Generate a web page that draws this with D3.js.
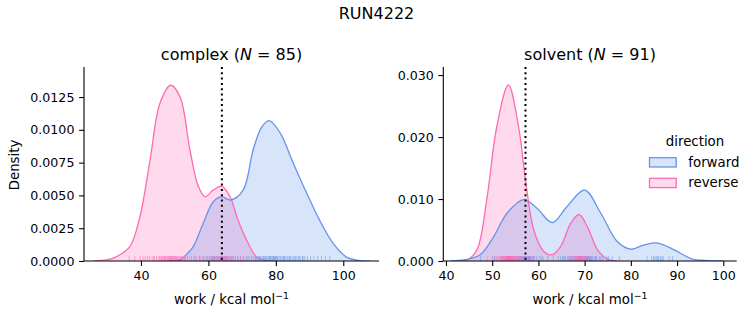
<!DOCTYPE html>
<html><head><meta charset="utf-8">
<script src="https://cdn.jsdelivr.net/npm/d3@7"></script>
<style>body{margin:0;background:#fff}svg{font-family:"DejaVu Sans",sans-serif}</style>
</head><body>
<script>
// ---------- data ----------
const suptitle = "RUN4222";
const panels = ["complex", "solvent"];
const panelN = [85, 91];
const directions = ["forward", "reverse"];
const colors = {forward: "#6495ed", reverse: "#ff69b4"};
const vlines = [64.0, 57.2];
const xTicksComplex = [40, 60, 80, 100];
const xTicksSolvent = [40, 50, 60, 70, 80, 90, 100];
const yTicksComplex = [0, 0.0025, 0.005, 0.0075, 0.01, 0.0125];
const yTicksSolvent = [0, 0.01, 0.02, 0.03];
const xDomainComplex = [23.1, 110.6];
const xDomainSolvent = [39.42, 102.9];
const yDomainComplex = [0, 0.01479];
const yDomainSolvent = [0, 0.0313];

// density curves: [work, density]
const complexForwardDensity = [[48,0],[51.6,0.0001],[53.5,0.0005],[55.5,0.0011],[58.5,0.0029],[61.4,0.0045],[63.9,0.0049],[66.6,0.00465],[70.3,0.0054],[73.3,0.0085],[75.8,0.0102],[78,0.0107],[81.2,0.0098],[85.1,0.0075],[89.1,0.0052],[93,0.0031],[97,0.00135],[101,0.0003],[104.9,0.00003],[108,0]];
const complexReverseDensity = [[26,0],[30,0.0001],[32.5,0.0003],[36.7,0.0011],[39.7,0.0034],[42.7,0.0077],[45.6,0.0120],[48.8,0.0134],[51.6,0.0125],[54.5,0.0085],[57,0.0057],[59,0.0049],[61.4,0.0054],[63.9,0.0057],[66.4,0.0049],[68.8,0.0031],[71.3,0.0016],[74.3,0.0003],[77,0.00003],[80,0]];
const solventForwardDensity = [[41,0],[44,0.0002],[47.4,0.001],[50.3,0.0039],[53.2,0.0077],[56.8,0.0099],[59.7,0.0085],[63,0.0062],[66.2,0.0088],[70,0.01145],[73.5,0.0077],[77.1,0.0031],[80,0.0019],[82.9,0.0026],[85.8,0.0029],[89.4,0.0018],[93,0.0004],[96.6,0.00005],[100,0]];
const solventReverseDensity = [[43,0],[44.5,0.0001],[46.7,0.0018],[48.8,0.0098],[51,0.0217],[53.5,0.0284],[55.7,0.0217],[57.2,0.0131],[59,0.0050],[61.2,0.0015],[63,0.001],[64.8,0.0023],[67,0.0061],[68.8,0.0075],[70.6,0.0055],[72.8,0.0018],[74.9,0.0003],[77,0]];

// rug samples (work values)
const complexForwardWork = [56.0,57.5,58.6,59.5,60.2,60.8,61.3,61.8,62.2,62.6,63.0,63.4,63.8,64.2,64.6,65.0,65.5,66.0,66.6,67.3,68.0,68.8,69.6,70.4,71.2,72.0,72.7,73.3,73.9,74.4,74.9,75.4,75.8,76.2,76.6,77.0,77.4,77.8,78.1,78.4,78.7,79.0,79.3,79.6,79.9,80.2,80.6,81.0,81.4,81.8,82.2,82.6,83.0,83.4,83.9,84.4,84.9,85.4,86.0,86.6,87.2,87.9,88.6,89.4,90.3,91.3,92.4,93.5,94.7,96.0,77.2,78.2,79.4,80.4,76.4,75.1,82.4,84.1,74.1,65.2,63.6,61.6,85.7,88.1,86.9];
const complexReverseWork = [36.5,39.8,40.6,41.2,41.9,42.5,43.3,44.0,44.6,45.1,45.5,45.9,46.3,46.6,46.9,47.2,47.5,47.8,48.0,48.2,48.4,48.6,48.8,49.0,49.2,49.4,49.6,49.8,50.0,50.2,50.5,50.8,51.1,51.4,51.7,52.0,52.4,52.8,53.3,53.8,54.4,55.0,55.7,56.5,57.3,58.2,59.0,59.8,60.5,61.1,61.6,62.0,62.4,62.8,63.1,63.4,63.7,64.0,64.3,64.6,64.9,65.2,65.5,65.8,66.1,66.5,66.9,67.4,68.0,68.7,69.5,70.4,71.5,38.2,43.7,46.1,47.0,48.9,50.4,51.9,53.0,60.9,63.9,65.0,67.0];
const solventForwardWork = [47.5,50.5,52.3,53.5,54.3,55.0,55.5,55.9,56.3,56.6,56.9,57.2,57.5,57.8,58.1,58.4,58.7,59.1,59.6,60.2,61.0,62.0,63.2,64.3,65.2,65.9,66.5,67.0,67.5,67.9,68.3,68.6,68.9,69.2,69.5,69.8,70.1,70.4,70.7,71.0,71.3,71.7,72.1,72.6,73.2,73.9,74.8,76.0,83.5,84.5,85.2,85.8,86.4,87.0,88.3,89.0,57.0,57.6,58.0,56.8,69.0,70.0,71.1,68.0,66.8,72.4,86.0,84.9,55.7,56.1,57.3,58.3,59.0,60.6,64.8,67.2,68.8,69.6,70.3,70.9,71.5,73.5,75.2,77.5,85.5,86.7,56.4,57.9,69.4,70.6,65.6];
const solventReverseWork = [48.9,50.2,50.8,51.2,51.5,51.8,52.0,52.2,52.4,52.6,52.8,53.0,53.1,53.2,53.3,53.4,53.5,53.6,53.7,53.8,53.9,54.0,54.1,54.2,54.3,54.4,54.5,54.6,54.8,55.0,55.2,55.4,55.6,55.9,56.2,56.5,56.9,57.3,57.8,58.4,59.1,52.5,53.25,53.65,54.05,54.35,51.0,52.9,55.1,50.0,53.55,54.7,53.95,52.1,51.65,56.0,53.45,54.15,52.7,53.05,55.3,65.5,66.3,66.8,67.2,67.6,67.9,68.2,68.4,68.6,68.8,69.0,69.2,69.4,69.6,69.8,70.0,70.3,70.6,71.0,71.5,72.3,68.1,68.7,69.1,69.5,67.4,70.8,68.9,68.3,69.3];

// ---------- drawing ----------
(function () {
const W = 753, H = 325;
const svg = d3.select("body").append("svg").attr("width", W).attr("height", H);
const FS = 13.33;   // labels, legend
const TFS = 12.6;   // tick labels

svg.append("text").attr("x", 376.5).attr("y", 19).attr("text-anchor", "middle")
  .attr("font-size", 16).text(suptitle);

const cfg = [
  {name: panels[0], n: panelN[0], left: 84, right: 379, xd: xDomainComplex, yd: yDomainComplex,
   xt: xTicksComplex, yt: yTicksComplex, yfmt: d3.format(".4f"), vline: vlines[0],
   dens: {forward: complexForwardDensity, reverse: complexReverseDensity},
   rug: {forward: complexForwardWork, reverse: complexReverseWork}},
  {name: panels[1], n: panelN[1], left: 443.3, right: 736.7, xd: xDomainSolvent, yd: yDomainSolvent,
   xt: xTicksSolvent, yt: yTicksSolvent, yfmt: d3.format(".3f"), vline: vlines[1],
   dens: {forward: solventForwardDensity, reverse: solventReverseDensity},
   rug: {forward: solventForwardWork, reverse: solventReverseWork}}
];
const pTop = 67, pBottom = 261;

cfg.forEach((p, i) => {
  const x = d3.scaleLinear().domain(p.xd).range([p.left, p.right]);
  const y = d3.scaleLinear().domain(p.yd).range([pBottom, pTop]);
  const g = svg.append("g");
  const clipId = "clip" + i;
  svg.append("clipPath").attr("id", clipId).append("rect")
    .attr("x", p.left).attr("y", pTop).attr("width", p.right - p.left).attr("height", pBottom - pTop);
  const plot = g.append("g").attr("clip-path", `url(#${clipId})`);

  const crv = d3.curveCatmullRom.alpha(0.5);
  const area = d3.area().x(d => x(d[0])).y0(y(0)).y1(d => Math.min(y(0), y(d[1]))).curve(crv);
  const line = d3.line().x(d => x(d[0])).y(d => y(d[1])).curve(crv);

  ["reverse", "forward"].forEach(dir => {
    plot.append("path").datum(p.dens[dir]).attr("d", area)
      .attr("fill", colors[dir]).attr("fill-opacity", 0.25);
  });
  ["reverse", "forward"].forEach(dir => {
    plot.append("path").datum(p.dens[dir]).attr("d", line)
      .attr("fill", "none").attr("stroke", colors[dir]).attr("stroke-width", 1.3);
  });
  // rugs
  directions.forEach(dir => {
    plot.selectAll(null).data(p.rug[dir]).enter().append("line")
      .attr("x1", d => x(d)).attr("x2", d => x(d))
      .attr("y1", pBottom).attr("y2", pBottom - 4.9)
      .attr("stroke", colors[dir]).attr("stroke-opacity", 0.55).attr("stroke-width", 1);
  });
  // vertical dotted line
  g.append("line").attr("x1", x(p.vline)).attr("x2", x(p.vline))
    .attr("y1", pTop).attr("y2", pBottom)
    .attr("stroke", "#000").attr("stroke-width", 2).attr("stroke-dasharray", "2,3.3");

  // axes
  const xa = g.append("g").attr("transform", `translate(0,${pBottom})`)
    .call(d3.axisBottom(x).tickValues(p.xt).tickSize(4.9).tickPadding(4.7).tickFormat(d3.format("d")));
  const ya = g.append("g").attr("transform", `translate(${p.left},0)`)
    .call(d3.axisLeft(y).tickValues(p.yt).tickSize(4.9).tickPadding(4.7).tickFormat(p.yfmt));
  [xa, ya].forEach(a => {
    a.selectAll("text").attr("font-size", TFS).attr("font-family", "DejaVu Sans").attr("fill", "#000");
    a.selectAll("line").attr("stroke", "#000").attr("stroke-width", 1.1);
    a.select(".domain").attr("stroke", "#000").attr("stroke-width", 1.1);
  });
  xa.select(".domain").attr("d", `M${p.left},0H${p.right}`);
  ya.select(".domain").attr("d", `M0,${pBottom}V${pTop}`);

  // title
  const cx = (p.left + p.right) / 2;
  const t = g.append("text").attr("x", cx).attr("y", 60).attr("text-anchor", "middle").attr("font-size", 16);
  t.append("tspan").text(p.name + " (");
  t.append("tspan").attr("font-style", "italic").text("N");
  t.append("tspan").text(" = " + p.n + ")");

  // x label
  const xl = g.append("text").attr("x", cx).attr("y", 304).attr("text-anchor", "middle").attr("font-size", FS);
  xl.append("tspan").text("work / kcal mol");
  xl.append("tspan").attr("font-size", FS * 0.7).attr("dy", -5).text("\u22121");
});

// y label
svg.append("text").attr("transform", "translate(19,165) rotate(-90)")
  .attr("text-anchor", "middle").attr("font-size", FS).text("Density");

// legend
const lg = svg.append("g");
lg.append("text").attr("x", 695).attr("y", 146).attr("text-anchor", "middle").attr("font-size", FS).text("direction");
directions.forEach((dir, k) => {
  const yy = 157.7 + k * 20.6;
  lg.append("rect").attr("x", 649.5).attr("y", yy).attr("width", 26.7).attr("height", 9.3)
    .attr("fill", colors[dir]).attr("fill-opacity", 0.25).attr("stroke", colors[dir]).attr("stroke-width", 1.3);
  lg.append("text").attr("x", 688.3).attr("y", yy + 9).attr("font-size", FS).text(dir);
});
})();
</script>
</body></html>
